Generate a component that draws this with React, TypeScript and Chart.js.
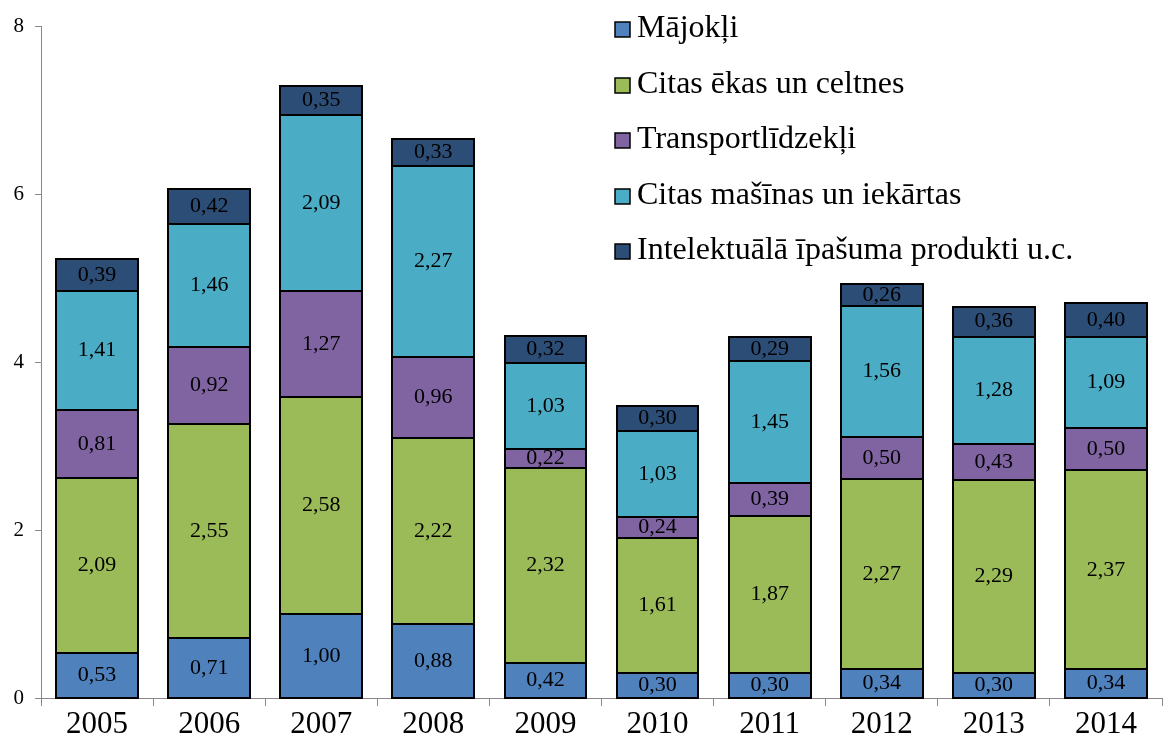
import React, { useEffect, useRef } from "react";
import { Chart, registerables } from "chart.js";

Chart.register(...registerables);

const years = ["2005", "2006", "2007", "2008", "2009", "2010", "2011", "2012", "2013", "2014"];
const seriesNames = [
  "Mājokļi",
  "Citas ēkas un celtnes",
  "Transportlīdzekļi",
  "Citas mašīnas un iekārtas",
  "Intelektuālā īpašuma produkti u.c.",
];
const majokli = [0.53, 0.71, 1.0, 0.88, 0.42, 0.3, 0.3, 0.34, 0.3, 0.34];
const ekas = [2.09, 2.55, 2.58, 2.22, 2.32, 1.61, 1.87, 2.27, 2.29, 2.37];
const transport = [0.81, 0.92, 1.27, 0.96, 0.22, 0.24, 0.39, 0.5, 0.43, 0.5];
const masinas = [1.41, 1.46, 2.09, 2.27, 1.03, 1.03, 1.45, 1.56, 1.28, 1.09];
const intelekt = [0.39, 0.42, 0.35, 0.33, 0.32, 0.3, 0.29, 0.26, 0.36, 0.4];
const colors = ["#4F81BD", "#9BBB59", "#8064A2", "#4BACC6", "#2C4D75"];
const yTicks = [0, 2, 4, 6, 8];

const FONT = '"Liberation Serif", "Times New Roman", serif';

const labelPlugin = {
  id: "segLabels",
  afterDatasetsDraw(chart: any) {
    const ctx = chart.ctx;
    ctx.save();
    ctx.strokeStyle = "#000";
    ctx.lineWidth = 2;
    chart.data.datasets.forEach((ds: any, di: number) => {
      const meta = chart.getDatasetMeta(di);
      meta.data.forEach((el: any) => {
        const left = Math.round(el.x - el.width / 2);
        const right = Math.round(el.x + el.width / 2);
        const top = Math.round(Math.min(el.y, el.base));
        const bottom = Math.round(Math.max(el.y, el.base));
        ctx.strokeRect(left, top, right - left, bottom - top);
      });
    });
    ctx.font = `22px ${FONT}`;
    ctx.fillStyle = "#000";
    ctx.textAlign = "center";
    ctx.textBaseline = "middle";
    chart.data.datasets.forEach((ds: any, di: number) => {
      const meta = chart.getDatasetMeta(di);
      meta.data.forEach((el: any, i: number) => {
        const v = ds.data[i];
        const y = (el.y + el.base) / 2;
        ctx.fillText(v.toFixed(2).replace(".", ","), el.x, y);
      });
    });
    ctx.restore();
  },
};

const legendPlugin = {
  id: "customLegend",
  afterDraw(chart: any) {
    const ctx = chart.ctx;
    const area = chart.chartArea;
    const x0 = area.left + 574;
    const y0 = area.top + 3;
    const step = 55.5;
    ctx.save();
    ctx.font = `32px ${FONT}`;
    ctx.textBaseline = "middle";
    ctx.textAlign = "left";
    seriesNames.forEach((name, i) => {
      const cy = Math.round(y0 + i * step);
      ctx.fillStyle = colors[i];
      ctx.fillRect(x0, cy - 7, 15, 15);
      ctx.strokeStyle = "#000";
      ctx.lineWidth = 1.5;
      ctx.strokeRect(x0, cy - 7, 15, 15);
      ctx.fillStyle = "#000";
      ctx.fillText(name, x0 + 22, cy);
    });
    ctx.restore();
  },
};

export default function App() {
  const ref = useRef<HTMLCanvasElement>(null);
  useEffect(() => {
    if (!ref.current) return;
    let chart: any = null;
    let cancelled = false;
    const build = () => {
      if (cancelled || !ref.current) return;
      const data = [majokli, ekas, transport, masinas, intelekt];
      chart = new Chart(ref.current, {
        type: "bar",
        data: {
          labels: years,
          datasets: data.map((d, i) => ({
            label: seriesNames[i],
            data: d,
            backgroundColor: colors[i],
            borderWidth: 0,
            barPercentage: 0.73,
            categoryPercentage: 1,
          })),
        },
        options: {
          animation: false,
          responsive: true,
          maintainAspectRatio: false,
          layout: { padding: { left: 0, right: 6, top: 26, bottom: 0 } },
          plugins: { legend: { display: false }, tooltip: { enabled: false } },
          scales: {
            x: {
              stacked: true,
              border: { display: true, color: "#888", width: 1 },
              grid: { offset: true, drawOnChartArea: false, drawTicks: true, tickLength: 8, color: "#888" },
              ticks: { color: "#000", font: { family: FONT, size: 31 }, padding: 0, maxRotation: 0 },
              afterFit(scale: any) {
                scale.height = 40;
              },
            },
            y: {
              stacked: true,
              min: 0,
              max: 8,
              border: { display: true, color: "#888", width: 1 },
              grid: { drawOnChartArea: false, drawTicks: true, tickLength: 6, color: "#888" },
              afterBuildTicks(scale: any) {
                scale.ticks = yTicks.map((v) => ({ value: v }));
              },
              ticks: { color: "#000", font: { family: FONT, size: 21 }, padding: 11 },
              afterFit(scale: any) {
                scale.width = 41;
              },
            },
          },
        },
        plugins: [labelPlugin, legendPlugin],
      });
    };
    const fonts: any = (document as any).fonts;
    if (fonts && fonts.load) {
      Promise.all([
        fonts.load('22px "Liberation Serif"', "0,123456789 Mājokļi ēīā"),
        fonts.load('32px "Liberation Serif"', "Mājokļi"),
      ])
        .catch(() => {})
        .then(build);
    } else {
      build();
    }
    return () => {
      cancelled = true;
      if (chart) chart.destroy();
    };
  }, []);
  return (
    <div style={{ position: "absolute", left: 0, top: 0, width: 1168, height: 738, background: "#fff" }}>
      <canvas ref={ref} />
    </div>
  );
}
